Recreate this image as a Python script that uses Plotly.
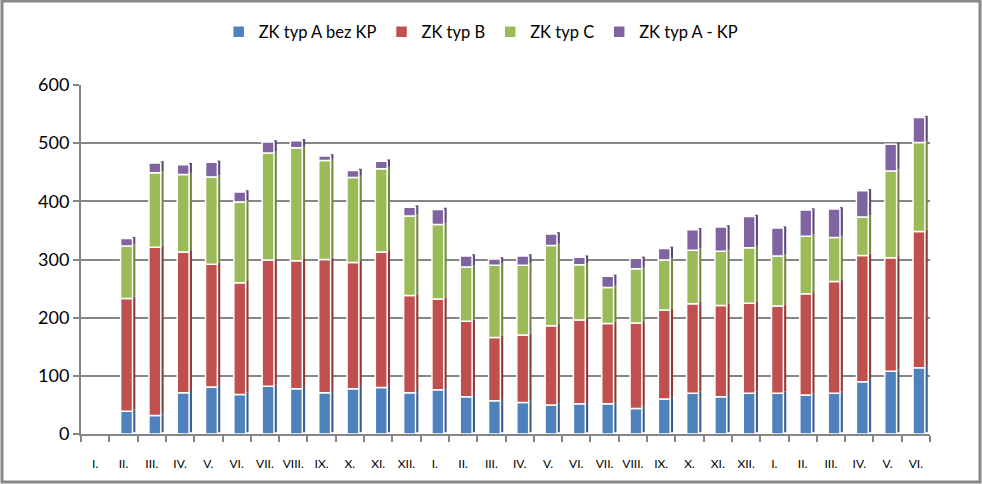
import plotly.graph_objects as go

# months (three seasons, Jan-Dec, Jan-Dec, Jan-Jun)
months = ["I.", "II.", "III.", "IV.", "V.", "VI.", "VII.", "VIII.", "IX.", "X.", "XI.", "XII.",
          "I.", "II.", "III.", "IV.", "V.", "VI.", "VII.", "VIII.", "IX.", "X.", "XI.", "XII.",
          "I.", "II.", "III.", "IV.", "V.", "VI."]

typ_a_bez_kp = [0, 39, 32, 71, 81, 68, 82, 78, 71, 78, 80, 71,
                76, 64, 57, 54, 50, 52, 52, 44, 60, 70, 64, 70,
                70, 67, 70, 90, 108, 114]
typ_b = [0, 194, 289, 242, 211, 192, 217, 220, 229, 217, 233, 167,
         156, 130, 109, 116, 136, 144, 138, 147, 153, 154, 157, 155,
         150, 174, 192, 217, 195, 234]
typ_c = [0, 90, 128, 133, 150, 139, 184, 194, 170, 146, 143, 137,
         128, 93, 124, 120, 138, 95, 62, 93, 86, 92, 93, 95,
         86, 99, 76, 66, 149, 153]
typ_a_kp = [0, 13, 17, 17, 25, 17, 19, 12, 8, 12, 13, 15,
            26, 19, 11, 16, 20, 13, 19, 18, 20, 35, 42, 54,
            48, 45, 49, 45, 46, 43]

series = [
    ("ZK typ A bez KP", typ_a_bez_kp, "#4F81BD", "#385D8A"),
    ("ZK typ B", typ_b, "#C0504D", "#8C3836"),
    ("ZK typ C", typ_c, "#9BBB59", "#71893F"),
    ("ZK typ A - KP", typ_a_kp, "#8064A2", "#5C4776"),
]

x = list(range(len(months)))

fig = go.Figure()
base = [0] * len(x)
for name, vals, color, dark in series:
    # darker side face to mimic the 3D column look
    fig.add_trace(go.Bar(
        x=x, y=vals, base=[b + 3 for b in base], name=name,
        marker=dict(color=dark, line=dict(width=0)),
        width=0.1, offset=0.32, showlegend=False, hoverinfo="skip",
    ))
    fig.add_trace(go.Bar(
        x=x, y=vals, base=base, name=name,
        marker=dict(color=color, line=dict(color="white", width=1.5)),
        width=0.42, offset=-0.1,
    ))
    base = [b + v for b, v in zip(base, vals)]

fig.update_layout(
    barmode="overlay",
    width=982, height=484,
    margin=dict(l=81, r=52, t=85, b=50),
    paper_bgcolor="white",
    plot_bgcolor="white",
    font=dict(family="Lato, Liberation Sans, sans-serif", color="#000000"),
    showlegend=True,
    legend=dict(
        orientation="h", x=0.49, xanchor="center", xref="container",
        y=1 - 32 / 484, yanchor="middle", yref="container",
        font=dict(size=16.5), itemwidth=30, traceorder="normal",
    ),
)

fig.update_xaxes(
    range=[-0.5, 29.5],
    tickvals=x, ticktext=months,
    tickfont=dict(size=12),
    ticks="", ticklabelstandoff=18, automargin=False,
    showline=True, linecolor="#868686", linewidth=2,
    showgrid=False, zeroline=False,
    minor=dict(ticks="outside", ticklen=6, tick0=-0.5, dtick=1,
               tickcolor="#868686", tickwidth=1.5, showgrid=False),
)
fig.update_yaxes(
    range=[0, 600], dtick=100,
    tickfont=dict(size=18), automargin=False,
    ticks="outside", ticklen=6, tickcolor="#868686", tickwidth=1.5,
    showline=True, linecolor="#868686", linewidth=2,
    showgrid=True, gridcolor="#868686", gridwidth=2,
    zeroline=False,
)

# outer chart frame
fig.add_shape(type="rect", xref="paper", yref="paper",
              x0=-79 / 849, x1=899 / 849, y0=-48 / 349, y1=433 / 349,
              line=dict(color="#888888", width=3), layer="below")

# drop the default page margin so the figure sits at the window corner
fig.write_html("out.html", config={"displayModeBar": False},
               post_script="document.body.style.margin='0';")
